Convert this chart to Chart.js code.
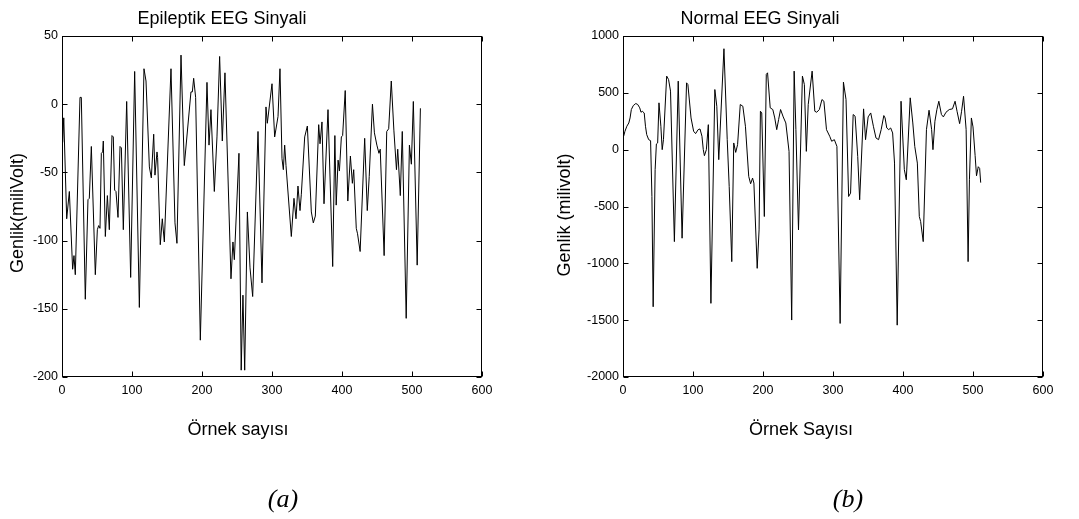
<!DOCTYPE html>
<html>
<head>
<meta charset="utf-8">
<script src="https://cdn.jsdelivr.net/npm/chart.js@4.4.1/dist/chart.umd.min.js"></script>
<style>
  html, body { margin: 0; padding: 0; background: #fff; }
  #wrap { position: relative; width: 1079px; height: 519px; overflow: hidden; }
  canvas { position: absolute; top: 0; }
  #left { left: 0; }
  #right { left: 540px; }
</style>
</head>
<body>
<div id="wrap">
  <canvas id="left" width="540" height="519"></canvas>
  <canvas id="right" width="539" height="519"></canvas>
</div>
<script>
// sample index / amplitude
const epiX = [1, 2.5, 6.7, 10.5, 15.2, 17.1, 19, 25.7, 27.6, 33.3, 37.1, 39, 41.9, 47.6, 50.5, 52.4, 54.3, 56.2, 58.1, 59,
  61.9, 64.8, 67.6, 71.4, 73.3, 75.2, 77.1, 80, 82.9, 84.8, 87.6, 92.4, 98.1, 103.8, 110.5, 117.1, 120, 124.8, 127.6, 131,
  132.8, 135.7, 136.6, 140.4, 143.3, 146.2, 155.7, 161.4, 164.2, 170, 174.7, 184.2, 186.2, 188.1, 190.9, 197.6, 207.1, 210, 212.8, 217.6,
  221.4, 225.2, 229, 232.8, 241.4, 244.2, 246.2, 252.8, 256, 258.5, 261, 264.8, 268.6, 272.4, 280, 285.7, 291.4, 293.3, 300, 303.8,
  308.6, 311.4, 314.3, 316.2, 318.1, 320, 327.6, 331.4, 334.3, 337.1, 340, 341.9, 346.7, 350.5, 356.2, 359, 361.9, 366.7, 368.6, 371.4,
  374.3, 380, 386.7, 389.8, 391.7, 394.4, 396.3, 399.1, 400.9, 404.6, 408.3, 412, 414.8, 416.7, 420.4, 422.2, 425.9, 432.4, 436.1, 438.9,
  443.5, 446.3, 449.8, 452.8, 454.6, 460.2, 463.9, 466.7, 470.4, 474.1, 477.8, 479.6, 483.3, 486.1, 491.7, 496.3, 499.1, 501.9, 507.4, 512];
const epiY = [-28, -10, -84, -64, -121, -111, -125, 5, 5, -143, -70, -69, -31, -125, -92, -89, -91, -36, -35, -27,
  -97, -67, -92, -23, -24, -63, -64, -83, -31, -32, -92, 2, -127, 24, -149, 26, 17, -46, -54, -22,
  -52, -35, -39, -103, -84, -101, 26, -87, -102, 36, -45, 9, 9, 19, 5, -173, 16, -30, -4, -64,
  -24, 35, -27, 23, -128, -101, -114, -36, -195, -140, -195, -79, -120, -141, -20, -131, -2, -14, 15, -24,
  -9, 26, -40, -48, -30, -45, -97, -69, -84, -60, -78, -66, -24, -16, -79, -87, -82, -15, -29, -13,
  -73, -4, -119, -23, -74, -41, -49, -24, -23, 10, -71, -38, -58, -48, -91, -95, -108, -25, -78, -53,
  0, -21, -30, -36, -33, -111, -20, -18, 17, -19, -48, -33, -67, -20, -157, -30, -44, 2, -118, -3];

const normX = [0.9, 2.8, 5.5, 8.3, 10.1, 11.9, 14.7, 18.3, 21.1, 23.9, 25.7, 27.5, 30.3, 32.1, 33.9, 36.7, 39.4, 41.3, 43.1, 45.9,
  47.7, 49.5, 51.4, 54.1, 56, 57.8, 62.4, 65.1, 67.9, 73.4, 78.9, 84.4, 90.8, 92.7, 97.2, 100.9, 103.7, 107.3, 110, 112.8,
  114.7, 116.3, 119.1, 121.9, 125.6, 131.2, 134, 136.8, 144.2, 148.9, 151.7, 155.4, 158.2, 161, 163.7, 167.5, 171.2, 174.9, 179.6, 182.3,
  185.1, 187, 191.7, 194.4, 196.3, 198.2, 201.9, 204.7, 206.5, 210.3, 214, 216.8, 219.6, 222.3, 225.1, 228.9, 232.6, 237.2, 241, 244.5,
  247, 250.7, 256.3, 259.1, 261.9, 264.6, 270.2, 274, 276.7, 280.5, 284.2, 287, 290.7, 295.3, 298.1, 301.9, 305.6, 310.2, 314.9, 318.6,
  322.3, 325.1, 328.8, 331.6, 335.3, 338.1, 343.7, 346.5, 350.2, 353.9, 357.7, 361.4, 365.1, 368.8, 372.6, 374.4, 376.8, 379.6, 382.4, 385.2,
  387.9, 391.7, 397.2, 401.9, 404.7, 410.3, 414, 416.8, 420.5, 423.3, 425.2, 428.9, 433.5, 437.2, 440.9, 442.8, 445.6, 448.4, 451.2, 454.9,
  457.7, 461.4, 466.1, 470.7, 474.4, 477.2, 480.9, 483.7, 486.5, 490.2, 493, 494.9, 497.7, 500, 503, 505, 507.5, 509.5, 511];
const normY = [118, 162, 206, 235, 279, 353, 388, 406, 397, 368, 329, 338, 323, 206, 132, 88, 79, -412, -1382, -176,
  50, 59, 412, 206, 0, 88, 647, 617, 515, -809, 603, -779, 588, 573, 279, 162, 141, 176, 182, 118,
  0, -53, 0, 220, -1352, 529, 382, -88, 888, 88, -323, -985, 59, -24, 44, 397, 382, 206, -235, -300,
  -250, -294, -1044, -706, 338, 323, -588, 662, 676, 368, 353, 279, 176, 265, 353, 288, 235, -15, -1499, 691,
  176, -706, 647, 573, -15, 397, 691, 338, 329, 353, 441, 426, 176, 118, 74, 88, 29, -1529, 594, 441,
  -412, -382, 309, 294, -59, -441, 359, 88, 288, 323, 206, 103, 88, 176, 300, 279, 191, 176, 191, 147,
  -118, -1544, 426, -176, -265, 456, 235, 29, -118, -588, -632, -809, 176, 347, 176, 0, 250, 353, 426, 309,
  288, 329, 353, 359, 426, 338, 229, 338, 470, 176, -985, -265, 279, 200, -50, -230, -150, -165, -290];

const xTicks = [0, 100, 200, 300, 400, 500, 600];
const epiTicks = [-200, -150, -100, -50, 0, 50];
const normTicks = [-2000, -1500, -1000, -500, 0, 500, 1000];

Chart.defaults.font.family = "'Liberation Sans', Arial, sans-serif";
Chart.defaults.color = "#000";

// box with inward tick marks, like a matlab axes
const frame = {
  id: "frame",
  afterDatasetsDraw(chart) {
    const a = chart.chartArea, c = chart.ctx;
    const l = Math.round(a.left) + 0.5, r = Math.round(a.right) - 0.5;
    const t = Math.round(a.top) + 0.5, b = Math.round(a.bottom) - 0.5;
    c.save();
    c.strokeStyle = "#000";
    c.lineWidth = 1;
    c.strokeRect(l, t, r - l, b - t);
    c.beginPath();
    chart.scales.x.ticks.forEach(tk => {
      const px = Math.round(chart.scales.x.getPixelForValue(tk.value)) + 0.5;
      c.moveTo(px, b); c.lineTo(px, b - 5);
      c.moveTo(px, t); c.lineTo(px, t + 5);
    });
    chart.scales.y.ticks.forEach(tk => {
      const py = Math.round(chart.scales.y.getPixelForValue(tk.value)) + 0.5;
      c.moveTo(l, py); c.lineTo(l + 5, py);
      c.moveTo(r, py); c.lineTo(r - 5, py);
    });
    c.stroke();
    c.restore();
  },
  afterDraw(chart, args, opts) {
    const c = chart.ctx;
    c.save();
    c.fillStyle = "#000";
    c.textAlign = "center";
    c.textBaseline = "middle";
    (opts.texts || []).forEach(t => {
      c.save();
      c.font = t.font;
      c.translate(t.x, t.y);
      if (t.rot) c.rotate(t.rot);
      c.fillText(t.text, 0, 0);
      c.restore();
    });
    c.restore();
  }
};

function panel(id, xs, ys, yTicks, W, H, area, texts) {
  const pts = xs.map((x, i) => ({ x: x, y: ys[i] }));
  return new Chart(document.getElementById(id), {
    type: "line",
    data: {
      datasets: [{
        data: pts,
        borderColor: "#000",
        borderWidth: 1,
        pointRadius: 0,
        tension: 0,
        fill: false
      }]
    },
    options: {
      responsive: false,
      animation: false,
      events: [],
      layout: {
        autoPadding: false,
        padding: { top: area.top, right: W - area.right, left: 0, bottom: 0 }
      },
      plugins: {
        legend: { display: false },
        tooltip: { enabled: false },
        frame: { texts: texts }
      },
      scales: {
        x: {
          type: "linear",
          min: xTicks[0],
          max: xTicks[xTicks.length - 1],
          ticks: { stepSize: 100, padding: 6, maxRotation: 0, font: { size: 12.5 }, callback: v => String(v) },
          grid: { display: false, drawTicks: false },
          border: { display: false },
          afterFit: s => { s.height = H - area.bottom; s.paddingLeft = 0; s.paddingRight = 0; }
        },
        y: {
          min: yTicks[0],
          max: yTicks[yTicks.length - 1],
          ticks: { stepSize: yTicks[1] - yTicks[0], padding: 4, font: { size: 12.5 }, callback: v => String(v) },
          grid: { display: false, drawTicks: false },
          border: { display: false },
          afterFit: s => { s.width = area.left; s.paddingTop = 0; s.paddingBottom = 0; }
        }
      }
    },
    plugins: [frame]
  });
}

const sans = "18px 'Liberation Sans', Arial, sans-serif";
const serif = "italic 26px 'Liberation Serif', 'Times New Roman', serif";

panel("left", epiX, epiY, epiTicks, 540, 519, { left: 62, right: 482, top: 36, bottom: 377 }, [
  { text: "Epileptik EEG Sinyali", x: 222, y: 19, font: sans },
  { text: "Örnek sayısı", x: 238, y: 430, font: sans },
  { text: "Genlik(miliVolt)", x: 18, y: 213, font: sans, rot: -Math.PI / 2 },
  { text: "(a)", x: 283, y: 500, font: serif }
]);

panel("right", normX, normY, normTicks, 539, 519, { left: 83, right: 503, top: 36, bottom: 377 }, [
  { text: "Normal EEG Sinyali", x: 220, y: 19, font: sans },
  { text: "Örnek Sayısı", x: 261, y: 430, font: sans },
  { text: "Genlik (milivolt)", x: 25, y: 215, font: sans, rot: -Math.PI / 2 },
  { text: "(b)", x: 308, y: 500, font: serif }
]);
</script>
</body>
</html>
